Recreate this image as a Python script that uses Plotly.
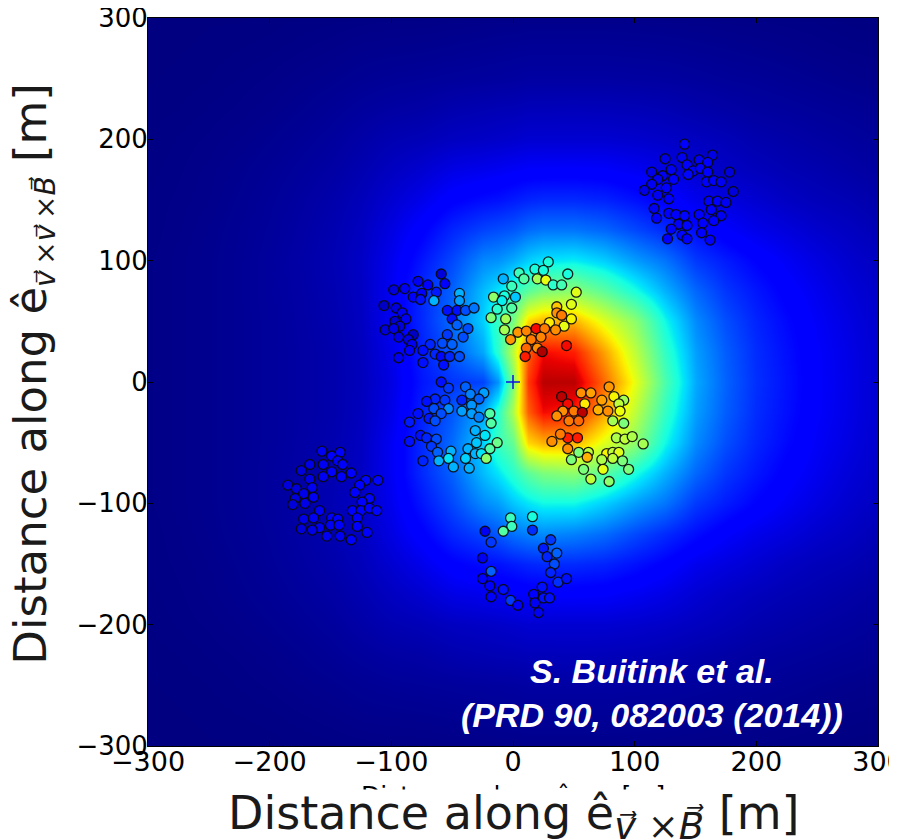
import plotly.graph_objects as go

# ---------------- background field (0..1 on the jet scale) -------------
field_x = [-300, -275, -250, -225, -200, -175, -150, -125, -100, -75, -50, -25, -12.5, 0, 12.5,
           25, 50, 75, 100, 125, 150, 175, 200, 225, 250, 275, 300]
field_y = [-300, -275, -250, -225, -200, -175, -150, -125, -100, -75, -50, -25, 0,
           25, 50, 75, 100, 125, 150, 175, 200, 225, 250, 275, 300]

row_300 = [0.0, 0.0, 0.001, 0.001, 0.002, 0.003, 0.004, 0.005, 0.006, 0.006, 0.007, 0.008, 0.009, 0.009, 0.01, 0.01, 0.01, 0.01, 0.01, 0.009, 0.008, 0.007, 0.006, 0.005, 0.004, 0.002, 0.001]
row_275 = [0.0, 0.001, 0.002, 0.003, 0.004, 0.006, 0.008, 0.011, 0.012, 0.013, 0.015, 0.017, 0.018, 0.019, 0.02, 0.02, 0.02, 0.02, 0.019, 0.018, 0.016, 0.014, 0.012, 0.01, 0.008, 0.006, 0.005]
row_250 = [0.001, 0.002, 0.003, 0.005, 0.007, 0.010, 0.013, 0.017, 0.02, 0.022, 0.024, 0.026, 0.027, 0.028, 0.03, 0.03, 0.03, 0.03, 0.029, 0.028, 0.025, 0.022, 0.02, 0.017, 0.014, 0.011, 0.009]
row_225 = [0.002, 0.003, 0.005, 0.007, 0.010, 0.014, 0.019, 0.025, 0.03, 0.033, 0.04, 0.044, 0.046, 0.047, 0.05, 0.05, 0.051, 0.05, 0.048, 0.044, 0.038, 0.033, 0.028, 0.025, 0.022, 0.019, 0.016]
row_200 = [0.003, 0.005, 0.007, 0.010, 0.014, 0.019, 0.025, 0.034, 0.043, 0.048, 0.056, 0.06, 0.063, 0.066, 0.07, 0.07, 0.07, 0.07, 0.067, 0.062, 0.055, 0.048, 0.04, 0.035, 0.03, 0.026, 0.022]
row_175 = [0.004, 0.006, 0.009, 0.013, 0.018, 0.024, 0.031, 0.042, 0.056, 0.07, 0.088, 0.095, 0.10, 0.105, 0.11, 0.111, 0.112, 0.11, 0.10, 0.088, 0.072, 0.06, 0.052, 0.045, 0.04, 0.034, 0.028]
row_150 = [0.005, 0.007, 0.010, 0.015, 0.021, 0.028, 0.037, 0.050, 0.07, 0.093, 0.12, 0.135, 0.14, 0.15, 0.16, 0.165, 0.165, 0.158, 0.14, 0.12, 0.095, 0.082, 0.07, 0.058, 0.05, 0.045, 0.037]
row_p125 = [0.005, 0.008, 0.012, 0.017, 0.023, 0.031, 0.041, 0.056, 0.085, 0.12, 0.16, 0.19, 0.20, 0.21, 0.23, 0.24, 0.24, 0.225, 0.195, 0.165, 0.135, 0.11, 0.092, 0.08, 0.066, 0.057, 0.047]
row_m125 = [0.005, 0.008, 0.012, 0.017, 0.023, 0.031, 0.041, 0.056, 0.085, 0.12, 0.16, 0.19, 0.21, 0.235, 0.25, 0.26, 0.25, 0.23, 0.195, 0.165, 0.135, 0.11, 0.092, 0.08, 0.066, 0.057, 0.047]
row_p100 = [0.006, 0.009, 0.013, 0.018, 0.025, 0.033, 0.044, 0.060, 0.095, 0.145, 0.195, 0.26, 0.27, 0.295, 0.33, 0.35, 0.36, 0.33, 0.28, 0.24, 0.18, 0.15, 0.124, 0.102, 0.084, 0.068, 0.057]
row_m100 = [0.006, 0.009, 0.013, 0.018, 0.025, 0.033, 0.044, 0.060, 0.095, 0.145, 0.195, 0.26, 0.28, 0.32, 0.35, 0.37, 0.37, 0.33, 0.28, 0.24, 0.18, 0.15, 0.124, 0.102, 0.084, 0.068, 0.057]
row_75 = [0.006, 0.009, 0.013, 0.018, 0.025, 0.032, 0.042, 0.058, 0.10, 0.165, 0.22, 0.31, 0.35, 0.40, 0.46, 0.50, 0.52, 0.46, 0.38, 0.30, 0.225, 0.176, 0.145, 0.117, 0.096, 0.077, 0.063]
row_p50 = [0.006, 0.009, 0.013, 0.018, 0.024, 0.031, 0.040, 0.056, 0.10, 0.165, 0.23, 0.33, 0.42, 0.49, 0.68, 0.72, 0.72, 0.62, 0.52, 0.37, 0.26, 0.20, 0.159, 0.13, 0.104, 0.085, 0.067]
row_m50 = [0.006, 0.009, 0.013, 0.018, 0.024, 0.031, 0.040, 0.056, 0.10, 0.165, 0.23, 0.33, 0.42, 0.47, 0.68, 0.72, 0.72, 0.62, 0.52, 0.37, 0.26, 0.20, 0.159, 0.13, 0.104, 0.085, 0.067]
row_p25 = [0.006, 0.009, 0.013, 0.018, 0.024, 0.030, 0.038, 0.053, 0.09, 0.155, 0.21, 0.29, 0.40, 0.58, 0.81, 0.90, 0.88, 0.74, 0.58, 0.41, 0.28, 0.215, 0.167, 0.137, 0.109, 0.089, 0.07]
row_m25 = [0.006, 0.009, 0.013, 0.018, 0.024, 0.030, 0.038, 0.053, 0.09, 0.155, 0.21, 0.29, 0.40, 0.56, 0.81, 0.90, 0.88, 0.74, 0.58, 0.41, 0.28, 0.215, 0.167, 0.137, 0.109, 0.089, 0.07]
row_0 = [0.006, 0.009, 0.013, 0.018, 0.024, 0.030, 0.038, 0.052, 0.085, 0.145, 0.175, 0.19, 0.27, 0.50, 0.85, 0.95, 0.95, 0.80, 0.63, 0.44, 0.29, 0.22, 0.17, 0.14, 0.11, 0.09, 0.07]

field_z = [row_300, row_275, row_250, row_225, row_200, row_175, row_150, row_m125, row_m100, row_75,
           row_m50, row_m25, row_0, row_p25, row_p50,
           row_75, row_p100, row_p125, row_150, row_175, row_200, row_225, row_250, row_275, row_300]

# ---------------- antenna positions [m] and measured values -------------
tr_x = [141, 125, 139, 153, 164, 143, 148, 160, 154, 130, 114, 123, 132, 144, 160, 178, 119, 159, 165, 171, 114, 126, 108, 181, 119, 128, 161, 168, 175, 116, 163, 128, 134, 141, 153, 171, 118, 136, 143, 156, 165, 130, 155, 139, 127, 143, 162]
tr_y = [196, 184, 185, 183, 187, 179, 174, 181, 176, 175, 173, 170, 167, 171, 173, 173, 167, 165, 166, 165, 163, 160, 158, 157, 154, 151, 149, 149, 148, 143, 142, 139, 138, 137, 138, 137, 135, 130, 129, 131, 133, 126, 123, 121, 118, 118, 117]
tr_v = [0.11, 0.09, 0.10, 0.10, 0.09, 0.12, 0.12, 0.11, 0.12, 0.10, 0.09, 0.10, 0.12, 0.13, 0.11, 0.08, 0.10, 0.12, 0.11, 0.10, 0.10, 0.11, 0.09, 0.08, 0.10, 0.11, 0.12, 0.11, 0.10, 0.10, 0.12, 0.11, 0.12, 0.13, 0.12, 0.10, 0.11, 0.12, 0.13, 0.12, 0.11, 0.12, 0.12, 0.13, 0.12, 0.12, 0.11]

ll_x = [-157, -149, -142, -144, -167, -156, -140, -174, -149, -133, -156, -141, -167, -121, -111, -185, -178, -165, -126, -130, -172, -179, -164, -118, -124, -171, -181, -132, -125, -118, -112, -159, -172, -164, -149, -144, -128, -159, -150, -143, -128, -174, -120, -153, -142, -133, -165]
ll_y = [-57, -61, -58, -65, -68, -68, -68, -73, -74, -75, -78, -78, -80, -81, -81, -85, -88, -87, -85, -91, -92, -96, -95, -96, -99, -100, -101, -106, -106, -104, -106, -106, -113, -112, -112, -113, -112, -120, -118, -118, -119, -121, -124, -127, -127, -130, -122]
ll_v = [0.10, 0.11, 0.11, 0.10, 0.09, 0.10, 0.12, 0.08, 0.11, 0.12, 0.10, 0.11, 0.09, 0.13, 0.13, 0.08, 0.08, 0.10, 0.12, 0.11, 0.09, 0.08, 0.10, 0.13, 0.12, 0.09, 0.08, 0.11, 0.12, 0.12, 0.13, 0.10, 0.09, 0.10, 0.11, 0.11, 0.12, 0.10, 0.10, 0.11, 0.11, 0.08, 0.12, 0.10, 0.10, 0.11, 0.09]

bt_x = [-2, 16, -1, -8, -23, 16, -18, 31, 25, 36, 28, 34, -25, -18, 31, -25, 37, 44, -19, -8, 24, -18, 17, 25, 30, -2, 4, 18, 21]
bt_y = [-112, -111, -119, -123, -123, -122, -132, -130, -137, -141, -144, -150, -145, -156, -157, -162, -165, -162, -168, -171, -169, -177, -175, -178, -178, -180, -184, -182, -190]
bt_v = [0.42, 0.38, 0.42, 0.45, 0.10, 0.17, 0.18, 0.18, 0.15, 0.22, 0.16, 0.20, 0.10, 0.22, 0.16, 0.12, 0.17, 0.14, 0.12, 0.14, 0.14, 0.12, 0.12, 0.14, 0.14, 0.18, 0.12, 0.10, 0.10]

ul_x = [-59, -78, -70, -56, -98, -89, -82, -75, -63, -44, -65, -76, -106, -96, -91, -44, -54, -46, -39, -32, -50, -97, -88, -93, -105, -98, -46, -37, -54, -82, -94, -86, -83, -41, -58, -50, -68, -74, -85, -94, -64, -59, -52, -44, -74, -57]
ul_y = [89, 83, 80, 81, 76, 77, 70, 73, 74, 73, 67, 68, 63, 61, 57, 67, 59, 59, 59, 61, 52, 50, 52, 46, 43, 44, 47, 44, 39, 39, 37, 35, 31, 37, 32, 31, 31, 26, 26, 20, 23, 21, 21, 21, 16, 14]
ul_v = [0.08, 0.10, 0.12, 0.12, 0.08, 0.10, 0.12, 0.12, 0.15, 0.30, 0.30, 0.14, 0.06, 0.08, 0.10, 0.28, 0.14, 0.14, 0.20, 0.24, 0.14, 0.07, 0.10, 0.08, 0.08, 0.09, 0.22, 0.20, 0.18, 0.06, 0.09, 0.09, 0.10, 0.20, 0.20, 0.22, 0.16, 0.14, 0.12, 0.10, 0.16, 0.13, 0.16, 0.20, 0.14, 0.14]

lc_x = [-59, -53, -39, -24, -35, -64, -56, -71, -42, -28, -34, -65, -53, -42, -78, -59, -34, -19, -28, -69, -64, -85, -18, -31, -76, -71, -23, -63, -85, -13, -30, -67, -19, -51, -62, -37, -53, -74, -61, -39, -31, -26, -22, -49, -36]
lc_y = [0, -5, -4, -9, -10, -14, -15, -16, -15, -14, -19, -22, -22, -24, -26, -26, -26, -26, -29, -30, -32, -33, -34, -40, -44, -46, -44, -47, -49, -50, -50, -53, -55, -57, -58, -55, -63, -65, -65, -63, -59, -59, -63, -70, -71]
lc_v = [0.14, 0.18, 0.22, 0.28, 0.25, 0.16, 0.18, 0.14, 0.16, 0.22, 0.27, 0.20, 0.26, 0.28, 0.14, 0.20, 0.28, 0.45, 0.25, 0.15, 0.20, 0.15, 0.45, 0.30, 0.14, 0.16, 0.35, 0.20, 0.14, 0.48, 0.32, 0.18, 0.45, 0.30, 0.22, 0.30, 0.35, 0.16, 0.30, 0.33, 0.30, 0.35, 0.52, 0.30, 0.30]

uc_x = [29, 5, 18, 25, 45, 9, 20, 27, 33, 40, -8, -1, 52, -16, -7, 2, -9, -1, -13, -18, -6, 48, 36, 36, 40, 48, 30, 42, 35, -7, 4, 11, 19, 26, -2, 15, 23, 44, 11, 20, 24, 10]
uc_y = [99, 90, 93, 92, 89, 85, 85, 84, 80, 80, 85, 79, 74, 70, 71, 70, 67, 61, 60, 53, 52, 64, 62, 57, 55, 52, 49, 46, 43, 43, 41, 42, 44, 44, 35, 35, 37, 30, 28, 28, 25, 21]
uc_v = [0.38, 0.42, 0.38, 0.38, 0.38, 0.45, 0.55, 0.63, 0.40, 0.43, 0.30, 0.42, 0.62, 0.52, 0.38, 0.32, 0.36, 0.45, 0.40, 0.50, 0.55, 0.62, 0.70, 0.76, 0.78, 0.65, 0.66, 0.63, 0.76, 0.55, 0.75, 0.77, 0.90, 0.78, 0.75, 0.78, 0.77, 0.90, 0.80, 0.76, 0.96, 0.88]

lr_x = [79, 40, 56, 64, 73, 83, 91, 45, 59, 50, 57, 41, 36, 70, 78, 87, 88, 82, 91, 46, 54, 45, 39, 53, 32, 85, 92, 98, 107, 45, 54, 62, 61, 77, 82, 87, 48, 58, 73, 82, 90, 95, 74, 64, 79]
lr_y = [-4, -12, -9, -9, -15, -12, -15, -18, -18, -24, -25, -24, -28, -23, -24, -18, -24, -32, -34, -32, -32, -46, -43, -46, -49, -46, -47, -45, -51, -55, -58, -58, -62, -59, -58, -58, -64, -72, -64, -63, -65, -72, -72, -80, -82]
lr_v = [0.75, 0.95, 0.76, 0.74, 0.74, 0.65, 0.55, 0.90, 0.66, 0.78, 0.95, 0.76, 0.76, 0.72, 0.76, 0.58, 0.64, 0.55, 0.50, 0.78, 0.80, 0.88, 0.78, 0.88, 0.76, 0.56, 0.58, 0.56, 0.55, 0.76, 0.50, 0.58, 0.72, 0.65, 0.58, 0.62, 0.50, 0.50, 0.56, 0.58, 0.50, 0.50, 0.63, 0.58, 0.52]

core_x = [0]
core_y = [0]

tick_vals = [-300, -200, -100, 0, 100, 200, 300]
credit_text = "S. Buitink et al.<br>(PRD 90, 082003 (2014))"

jet = [[0.0, 'rgb(0,0,128)'], [0.11, 'rgb(0,0,255)'], [0.125, 'rgb(0,0,255)'],
       [0.34, 'rgb(0,219,255)'], [0.35, 'rgb(0,229,247)'], [0.375, 'rgb(21,255,226)'],
       [0.64, 'rgb(239,255,8)'], [0.65, 'rgb(247,245,0)'], [0.66, 'rgb(255,236,0)'],
       [0.89, 'rgb(255,19,0)'], [0.91, 'rgb(232,0,0)'], [1.0, 'rgb(128,0,0)']]

ant_x = tr_x + ll_x + bt_x + ul_x + lc_x + uc_x + lr_x
ant_y = tr_y + ll_y + bt_y + ul_y + lc_y + uc_y + lr_y
ant_v = tr_v + ll_v + bt_v + ul_v + lc_v + uc_v + lr_v

fig = go.Figure()
fig.add_trace(go.Heatmap(x=field_x, y=field_y, z=field_z, colorscale=jet, zmin=0, zmax=1,
                         zsmooth='best', showscale=False, hoverinfo='skip'))
fig.add_trace(go.Scatter(x=ant_x, y=ant_y, mode='markers',
                         marker=dict(size=10, color=ant_v, colorscale=jet, cmin=0, cmax=1,
                                     line=dict(color='rgba(10,10,10,0.9)', width=1.3)),
                         showlegend=False))
fig.add_trace(go.Scatter(x=core_x, y=core_y, mode='markers',
                         marker=dict(symbol='cross-thin', size=10, line=dict(color='#1010e0', width=1.5)),
                         showlegend=False))

axis_common = dict(range=[-300, 300], tickvals=tick_vals, ticks='inside', ticklen=5,
                   tickcolor='black', showline=True, linecolor='black', linewidth=1,
                   mirror='ticks', showgrid=False, zeroline=False, automargin=False,
                   ticklabeloverflow='allow')
fig.update_xaxes(**axis_common, ticklabelstandoff=-8,
                 tickfont=dict(family='DejaVu Sans', size=27, color='black'))
fig.update_yaxes(**axis_common, ticklabelstandoff=-6,
                 tickfont=dict(family='DejaVu Sans', size=26, color='black'))

SUBX = "font-family:'DejaVu Serif','DejaVu Sans';font-size:37px"
SUBY = "font-family:'DejaVu Serif','DejaVu Sans';font-size:28px"
x_title = ("Distance along ê<sub><span style=\"" + SUBX + "\"><i>v⃗</i> ×<i>B⃗</i></span></sub> [m]")
y_title = ("Distance along ê<sub><span style=\"" + SUBY + "\"><i>v⃗</i>\u2009×<i>v⃗</i>\u2009×<i>B⃗</i></span></sub> [m]")
small_title = "Distance along ê<sub>v⃗ ×B⃗</sub> [m]"

fig.update_layout(
    width=889, height=832,
    margin=dict(l=140, r=19, t=10, b=94),
    paper_bgcolor='white', plot_bgcolor='rgb(0,0,128)',
    showlegend=False,
    annotations=[
        # matplotlib's own (mostly hidden) axis label
        dict(text=small_title, xref='paper', yref='paper',
             x=0.5, y=-0.0453, xanchor='center', yanchor='top', showarrow=False,
             font=dict(family='DejaVu Sans', size=25, color='black')),
        # white patch hiding most of it
        dict(text=' ', xref='paper', yref='paper', x=0.5, y=-0.0591,
             xanchor='center', yanchor='top', showarrow=False, width=360, height=28,
             bgcolor='white', borderpad=0),
        dict(text=x_title, xref='paper', yref='paper',
             x=0.502, y=-0.0522, xanchor='center', yanchor='top', showarrow=False,
             font=dict(family='DejaVu Sans', size=46, color='#1a1a1a')),
        dict(text=y_title, xref='paper', yref='paper',
             x=-0.158, y=0.511, xanchor='center', yanchor='middle', showarrow=False,
             textangle=-90,
             font=dict(family='DejaVu Sans', size=45, color='#1a1a1a')),
        dict(text='<b><i>' + credit_text + '</i></b>', xref='paper', yref='paper',
             x=0.690, y=0.073, xanchor='center', yanchor='middle', showarrow=False,
             align='center', font=dict(family='Liberation Sans', size=34, color='white')),
    ],
)

fig.write_html("out.html")
